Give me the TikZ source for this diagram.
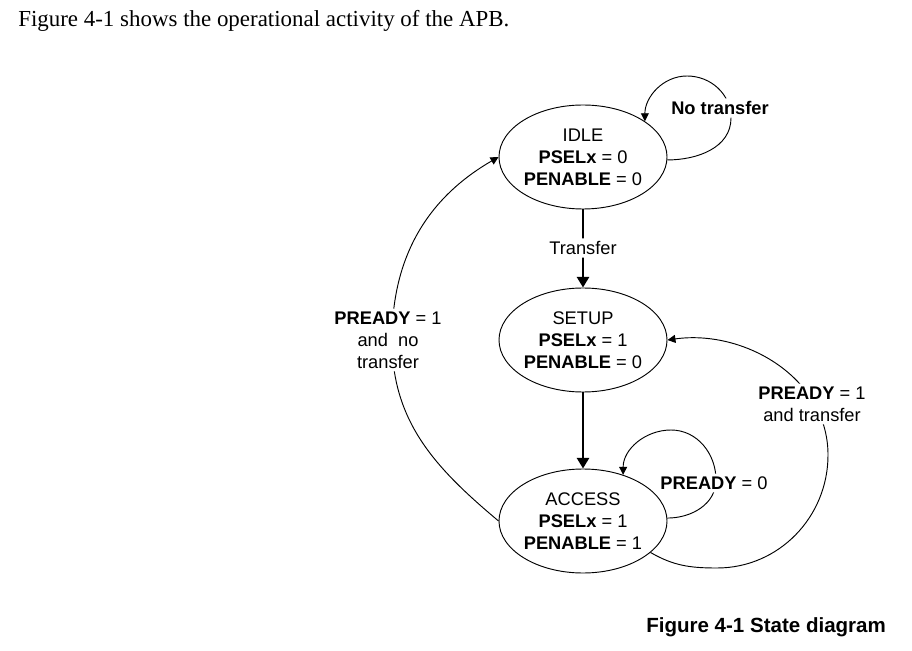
\documentclass[tikz,border=0pt]{standalone}
\usepackage{fontspec}
\setmainfont{Liberation Serif}
\newfontfamily\arialfont{Liberation Sans}
\usetikzlibrary{shapes.geometric,arrows.meta}
\begin{document}
\begin{tikzpicture}[x=0.75pt,y=0.75pt,
  state/.style={ellipse,draw,line width=0.7pt,minimum width=126pt,minimum height=78pt,
    inner sep=0pt,align=center,font=\arialfont\fontsize{13.7}{16.5}\selectfont},
  lbl/.style={inner sep=2pt,align=center,font=\arialfont\fontsize{13.7}{16.5}\selectfont},
  thinarrow/.style={line width=0.7pt,-{Triangle[length=6pt,width=6pt]}},
  thickarrow/.style={line width=2pt,-{Triangle[length=8pt,width=9pt]}}]
\useasboundingbox (0,0) rectangle (912,650);

\node[anchor=base west,inner sep=0pt,font=\fontsize{17.2}{20}\selectfont] (hdr) at (18,623)
  {Figure 4-1 shows the operational activity of the APB.};
\node[anchor=base west,inner sep=0pt,font=\arialfont\bfseries\fontsize{15.4}{18}\selectfont] (cap) at (646,18)
  {Figure 4-1 State diagram};

\node[state] (idle) at (583,493) {IDLE\\\textbf{PSELx} = 0\\\textbf{PENABLE} = 0};
\node[state] (setup) at (583,310) {SETUP\\\textbf{PSELx} = 1\\\textbf{PENABLE} = 0};
\node[state] (access) at (583,129) {ACCESS\\\textbf{PSELx} = 1\\\textbf{PENABLE} = 1};

% connector labels
\node[lbl] (ltr) at (583,402) {Transfer};
\node[lbl,font=\arialfont\bfseries\fontsize{13.7}{16.5}\selectfont] (lnt) at (720,542) {No transfer};
\node[lbl] (lp0) at (714,167) {\textbf{PREADY} = 0};
\node[lbl] (lp1) at (812,246) {\textbf{PREADY} = 1\\and transfer};
\node[lbl] (lp2) at (388,310) {\textbf{PREADY} = 1\\and~~no\\transfer};

\coordinate (i1) at (731,532);
\coordinate (i2) at (687,574);
\coordinate (a1) at (716,170);
\coordinate (a2) at (671,220);
\coordinate (b1) at (717,82);
\coordinate (b2) at (828,195);
\coordinate (m) at (392,310);

\begin{scope}[even odd rule]
\clip (0,0) rectangle (912,650)
  (ltr.south west) rectangle (ltr.north east)
  (lnt.south west) rectangle (lnt.north east)
  (lp0.south west) rectangle (lp0.north east)
  (lp1.south west) rectangle (lp1.north east)
  (lp2.south west) rectangle (lp2.north east);
% IDLE -> SETUP
\draw[thickarrow] (idle.south) -- (setup.north);
% SETUP -> ACCESS
\draw[thickarrow] (setup.south) -- (access.north);
% IDLE self loop
\draw[thinarrow] (idle.-2) to[out=0,in=-90] (i1) to[out=90,in=0] (i2) to[out=180,in=90] (idle.30);
% ACCESS self loop
\draw[thinarrow] (access.2) to[out=0,in=-90] (a1) to[out=90,in=0] (a2) to[out=180,in=90] (access.49);
% ACCESS -> SETUP
\draw[thinarrow] (access.-25) to[out=-30,in=180] (b1) to[out=0,in=-90] (b2) to[out=90,in=8] (setup.east);
% ACCESS -> IDLE
\draw[thinarrow] (access.180) to[out=140,in=-90] (m) to[out=90,in=-150] (idle.west);
\end{scope}
\end{tikzpicture}
\end{document}
